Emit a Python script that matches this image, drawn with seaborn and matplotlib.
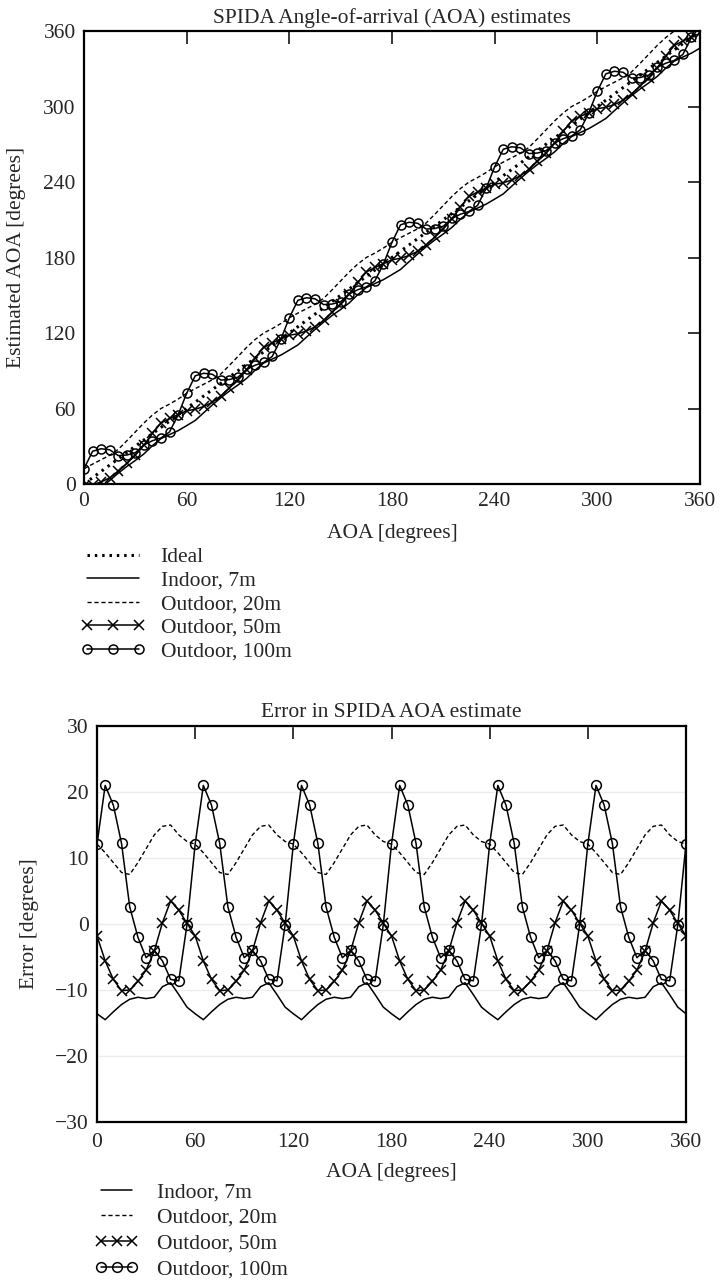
import numpy as np
import pandas as pd
import seaborn as sns
import matplotlib.pyplot as plt

# AOA grid, one reading every 5 degrees
aoa = np.arange(0, 361, 5)

# error [degrees] (pattern repeats every 60 degrees)
err_indoor_7m = [
    -13.6, -14.5, -13.3, -12.2, -11.4, -11.1, -11.3, -11.1, -9.5, -8.9, -10.7, -12.6,
    -13.6, -14.5, -13.3, -12.2, -11.4, -11.1, -11.3, -11.1, -9.5, -8.9, -10.7, -12.6,
    -13.6, -14.5, -13.3, -12.2, -11.4, -11.1, -11.3, -11.1, -9.5, -8.9, -10.7, -12.6,
    -13.6, -14.5, -13.3, -12.2, -11.4, -11.1, -11.3, -11.1, -9.5, -8.9, -10.7, -12.6,
    -13.6, -14.5, -13.3, -12.2, -11.4, -11.1, -11.3, -11.1, -9.5, -8.9, -10.7, -12.6,
    -13.6, -14.5, -13.3, -12.2, -11.4, -11.1, -11.3, -11.1, -9.5, -8.9, -10.7, -12.6,
    -13.6,
]
err_outdoor_20m = [
    12.1, 10.8, 9.3, 7.8, 7.5, 9.3, 11.4, 13.5, 14.8, 15.0, 13.5, 12.5,
    12.1, 10.8, 9.3, 7.8, 7.5, 9.3, 11.4, 13.5, 14.8, 15.0, 13.5, 12.5,
    12.1, 10.8, 9.3, 7.8, 7.5, 9.3, 11.4, 13.5, 14.8, 15.0, 13.5, 12.5,
    12.1, 10.8, 9.3, 7.8, 7.5, 9.3, 11.4, 13.5, 14.8, 15.0, 13.5, 12.5,
    12.1, 10.8, 9.3, 7.8, 7.5, 9.3, 11.4, 13.5, 14.8, 15.0, 13.5, 12.5,
    12.1, 10.8, 9.3, 7.8, 7.5, 9.3, 11.4, 13.5, 14.8, 15.0, 13.5, 12.5,
    12.1,
]
err_outdoor_50m = [
    -1.8, -5.6, -8.4, -10.1, -10.0, -8.7, -7.0, -4.1, 0.2, 3.5, 2.1, 0.1,
    -1.8, -5.6, -8.4, -10.1, -10.0, -8.7, -7.0, -4.1, 0.2, 3.5, 2.1, 0.1,
    -1.8, -5.6, -8.4, -10.1, -10.0, -8.7, -7.0, -4.1, 0.2, 3.5, 2.1, 0.1,
    -1.8, -5.6, -8.4, -10.1, -10.0, -8.7, -7.0, -4.1, 0.2, 3.5, 2.1, 0.1,
    -1.8, -5.6, -8.4, -10.1, -10.0, -8.7, -7.0, -4.1, 0.2, 3.5, 2.1, 0.1,
    -1.8, -5.6, -8.4, -10.1, -10.0, -8.7, -7.0, -4.1, 0.2, 3.5, 2.1, 0.1,
    -1.8,
]
err_outdoor_100m = [
    12.1, 21.0, 18.0, 12.2, 2.6, -2.0, -5.1, -4.0, -5.6, -8.4, -8.6, -0.1,
    12.1, 21.0, 18.0, 12.2, 2.6, -2.0, -5.1, -4.0, -5.6, -8.4, -8.6, -0.1,
    12.1, 21.0, 18.0, 12.2, 2.6, -2.0, -5.1, -4.0, -5.6, -8.4, -8.6, -0.1,
    12.1, 21.0, 18.0, 12.2, 2.6, -2.0, -5.1, -4.0, -5.6, -8.4, -8.6, -0.1,
    12.1, 21.0, 18.0, 12.2, 2.6, -2.0, -5.1, -4.0, -5.6, -8.4, -8.6, -0.1,
    12.1, 21.0, 18.0, 12.2, 2.6, -2.0, -5.1, -4.0, -5.6, -8.4, -8.6, -0.1,
    12.1,
]

deg_ticks = [0, 60, 120, 180, 240, 300, 360]
err_ticks = [-30, -20, -10, 0, 10, 20, 30]

df = pd.DataFrame({
    'AOA': aoa,
    'Indoor, 7m': err_indoor_7m,
    'Outdoor, 20m': err_outdoor_20m,
    'Outdoor, 50m': err_outdoor_50m,
    'Outdoor, 100m': err_outdoor_100m,
})

sns.set_style('white')
plt.rcParams['font.family'] = ['Liberation Serif', 'DejaVu Serif']
fs = 15.5


def line_style(name, ms):
    if name == 'Indoor, 7m':
        return dict(linestyle='-', linewidth=1.1)
    if name == 'Outdoor, 20m':
        return dict(linestyle=(0, (3, 2)), linewidth=1.0)
    if name == 'Outdoor, 50m':
        return dict(linestyle='-', linewidth=1.1, marker='x', markersize=ms,
                    markeredgewidth=1.1, markeredgecolor='black')
    return dict(linestyle='-', linewidth=1.1, marker='o', markersize=ms,
                markerfacecolor='none', markeredgewidth=1.1, markeredgecolor='black')


series = ['Indoor, 7m', 'Outdoor, 20m', 'Outdoor, 50m', 'Outdoor, 100m']

fig = plt.figure(figsize=(7.21, 12.82), dpi=100)
ax1 = fig.add_axes([84 / 721, 1 - 484 / 1282, 616 / 721, 453 / 1282])
ax2 = fig.add_axes([97 / 721, 1 - 1122 / 1282, 589 / 721, 396 / 1282])

# top: estimated AOA = true AOA + error
sns.lineplot(x=df['AOA'], y=df['AOA'], ax=ax1, color='black', label='Ideal')
ax1.lines[-1].set(linewidth=2.2, linestyle=(0, (0.8, 1.6)))
for name in series:
    sns.lineplot(x=df['AOA'], y=df['AOA'] + df[name], ax=ax1, color='black',
                 label=name)
    ax1.lines[-1].set(**line_style(name, 6.5))

ax1.set_xlim(0, 360)
ax1.set_ylim(0, 360)
ax1.set_xticks(deg_ticks)
ax1.set_yticks(deg_ticks)
ax1.set_title('SPIDA Angle-of-arrival (AOA) estimates', fontsize=fs, pad=6)
ax1.set_xlabel('AOA [degrees]', fontsize=fs, labelpad=9)
ax1.set_ylabel('Estimated AOA [degrees]', fontsize=fs)
ax1.yaxis.set_label_coords(-0.094, 0.5)
ax1.tick_params(direction='in', top=True, right=True, length=9, width=1.3,
                labelsize=fs, pad=6)
ax1.legend(loc='upper left', bbox_to_anchor=(81 / 721, 1 - 547 / 1282),
           bbox_transform=fig.transFigure, frameon=False, fontsize=fs,
           numpoints=3, handlelength=3.0, handletextpad=0.7,
           borderpad=0, borderaxespad=0, labelspacing=0.16)

# bottom: error
for name in series:
    sns.lineplot(data=df, x='AOA', y=name, ax=ax2, color='black', label=name)
    ax2.lines[-1].set(**line_style(name, 7))

ax2.set_xlim(0, 360)
ax2.set_ylim(-30, 30)
ax2.set_xticks(deg_ticks)
ax2.set_yticks(err_ticks)
ax2.grid(axis='y', color='#ececec', lw=1.0)
ax2.set_axisbelow(True)
ax2.set_title('Error in SPIDA AOA estimate', fontsize=fs, pad=6.5)
ax2.set_xlabel('AOA [degrees]', fontsize=fs, labelpad=8)
ax2.set_ylabel('Error [degrees]', fontsize=fs)
ax2.yaxis.set_label_coords(-0.0985, 0.5)
ax2.tick_params(axis='x', direction='in', top=True, length=9, width=1.3,
                labelsize=fs, pad=8)
ax2.tick_params(axis='y', length=0, labelsize=fs, pad=6)
ax2.legend(loc='upper left', bbox_to_anchor=(95 / 721, 1 - 1182 / 1282),
           bbox_transform=fig.transFigure, frameon=False, fontsize=fs,
           numpoints=3, handlelength=2.0, handletextpad=0.9,
           borderpad=0, borderaxespad=0, labelspacing=0.27)

for ax in (ax1, ax2):
    for sp in ax.spines.values():
        sp.set_color('black')
        sp.set_linewidth(1.6)

fig.savefig('out.png', dpi=100)
